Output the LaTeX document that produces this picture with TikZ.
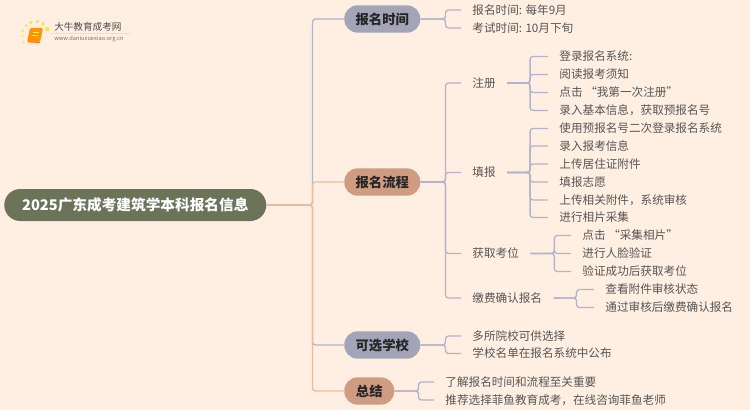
\documentclass[tikz,border=0pt]{standalone}
\usepackage{fontspec}
\setmainfont{Noto Sans CJK SC}
\usetikzlibrary{calc,positioning,fadings}
\definecolor{bgc}{HTML}{FFEFE2}
\definecolor{lav}{HTML}{B3B3CB}
\definecolor{org}{HTML}{E8BBA3}
\definecolor{pilla}{HTML}{A4A4B8}
\definecolor{pillb}{HTML}{CF9C82}
\definecolor{rootc}{HTML}{6B7359}
\definecolor{txtc}{HTML}{555555}
\tikzset{
  x=0.75pt,y=-0.75pt,
  conn/.style={lav,line width=1pt,rounded corners=2.2pt},
  connb/.style={org,line width=1pt,rounded corners=2.2pt},
  leaf/.style={anchor=west,inner xsep=8.4pt,inner ysep=0pt,text=txtc,font=\fontsize{8.7pt}{10pt}\selectfont},
  pill/.style={rounded corners=10pt,minimum height=20.5pt,inner sep=0pt,font=\fontsize{10pt}{11pt}\selectfont\bfseries,text=black!85},
  pillA/.style={pill,fill=pilla,minimum width=57pt},
  pillB/.style={pill,fill=pillb,minimum width=57pt},
  rootbox/.style={rounded corners=12pt,fill=rootc,text=white,minimum width=196.5pt,minimum height=24pt,inner sep=0pt,font=\fontsize{11pt}{12pt}\selectfont\bfseries},
}
\newcommand{\forkline}[4]{\draw[#1] (#2.east) -- ++(#3,0) |- (#4.west);}
\begin{document}
\begin{tikzpicture}
\fill[bgc] (0,0) rectangle (750,410);
\useasboundingbox (0,0) rectangle (750,410);

% logo
\foreach \px/\py/\r in {22.5/31/1.3,22.5/36.5/1,26/25.5/1.4,31/22.5/1.6,37.5/21.5/1.7,43/24/1.8,47.5/29/2.1,23.5/42.5/1}
  \fill[yellow!80!orange,opacity=.75] (\px,\py) circle (\r);
\fill[orange!85!yellow,rounded corners=1pt] (30,28) -- (43,28) -- (40,42) -- (27,42) -- cycle;
\draw[orange!90!red,line width=.6pt] (27.5,42) -- (40,42.5);
\fill[yellow!70!white] (33,32) rectangle (39,33);
\fill[yellow!70!white] (32,35) rectangle (38,36);
\node[anchor=west,inner sep=0pt,text=black!70,font=\fontsize{7.2pt}{9pt}\selectfont] (logoa) at (54,27) {大牛教育成考网};
\node[anchor=west,inner sep=0pt,text=black!55,font=\fontsize{4.3pt}{6pt}\selectfont] (logob) at (54,38.5) {www.daniuxuexiao.org.cn};
\draw[black!12,line width=.5pt] (50,33.5) -- (130,33.5);

% main nodes
\node[rootbox,anchor=west] (root) at (4,205) {2025广东成考建筑学本科报名信息};
\node[pillA,anchor=west] (time) at (344,19) {报名时间};
\node[pillB,anchor=west] (flow) at (344,182) {报名流程};
\node[pillA,anchor=west] (school) at (344,345) {可选学校};
\node[pillB,anchor=west,minimum width=37.5pt] (summary) at (344,391) {总结};

% level 2
\node[leaf] (t1) at (461,10) {报名时间: 每年9月};
\node[leaf] (t2) at (461,28) {考试时间: 10月下旬};
\node[leaf] (reg) at (461,83) {注册};
\node[leaf] (fill) at (461,172.5) {填报};
\node[leaf] (seat) at (461,253.5) {获取考位};
\node[leaf] (pay) at (461,298) {缴费确认报名};
\node[leaf] (s1) at (461,336) {多所院校可供选择};
\node[leaf] (s2) at (461,353.5) {学校名单在报名系统中公布};
\node[leaf] (z1) at (434,382) {了解报名时间和流程至关重要};
\node[leaf] (z2) at (434,400) {推荐选择菲鱼教育成考，在线咨询菲鱼老师};

% level 3
\node[leaf] (r1) at (548,56.5) {登录报名系统:};
\node[leaf] (r2) at (548,74.5) {阅读报考须知};
\node[leaf] (r3) at (548,92.5) {点击 “我第一次注册”};
\node[leaf] (r4) at (548,110.5) {录入基本信息，获取预报名号};
\node[leaf] (f1) at (548,128.5) {使用预报名号二次登录报名系统};
\node[leaf] (f2) at (548,146) {录入报考信息};
\node[leaf] (f3) at (548,164) {上传居住证附件};
\node[leaf] (f4) at (548,182) {填报志愿};
\node[leaf] (f5) at (548,200) {上传相关附件，系统审核};
\node[leaf] (f6) at (548,217.5) {进行相片采集};
\node[leaf] (g1) at (571,235.5) {点击 “采集相片”};
\node[leaf] (g2) at (571,253.5) {进行人脸验证};
\node[leaf] (g3) at (571,271.5) {验证成功后获取考位};
\node[leaf] (p1) at (594,289.5) {查看附件审核状态};
\node[leaf] (p2) at (594,307.5) {通过审核后缴费确认报名};

% connectors: root
\forkline{conn}{root}{46}{time}
\forkline{conn}{root}{46}{school}
\forkline{connb}{root}{46}{summary}
\forkline{connb}{root}{46}{flow}

% connectors: level 1 to 2
\foreach \c in {t1,t2} {\forkline{conn}{time}{25}{\c}}
\foreach \c in {reg,fill,seat,pay} {\forkline{conn}{flow}{25}{\c}}
\foreach \c in {s1,s2} {\forkline{conn}{school}{25}{\c}}
\foreach \c in {z1,z2} {\forkline{conn}{summary}{24}{\c}}

% connectors: level 2 to 3
\foreach \c in {r1,r2,r3,r4} {\forkline{conn}{reg}{23}{\c}}
\foreach \c in {f1,f2,f3,f4,f5,f6} {\forkline{conn}{fill}{23}{\c}}
\foreach \c in {g1,g2,g3} {\forkline{conn}{seat}{24}{\c}}
\foreach \c in {p1,p2} {\forkline{conn}{pay}{23}{\c}}
\end{tikzpicture}
\end{document}
